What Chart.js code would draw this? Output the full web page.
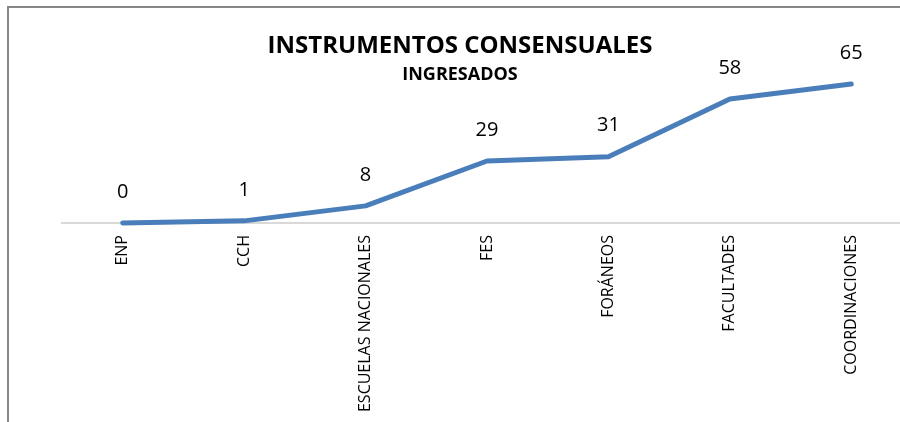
<!DOCTYPE html>
<html>
<head>
<meta charset="utf-8">
<script src="https://cdn.jsdelivr.net/npm/chart.js@4"></script>
<style>
  html, body { margin: 0; padding: 0; background: #fff; overflow: hidden; }
  #wrap { width: 900px; height: 422px; overflow: hidden; position: relative; }
  canvas { display: block; }
</style>
</head>
<body>
<div id="wrap"><canvas id="chart" width="920" height="422"></canvas></div>
<script>
// datos
const CATEGORIES = ['ENP', 'CCH', 'ESCUELAS NACIONALES', 'FES', 'FORÁNEOS', 'FACULTADES', 'COORDINACIONES'];
const VALUES = [0, 1, 8, 29, 31, 58, 65];
const TITLE = 'INSTRUMENTOS CONSENSUALES';
const SUBTITLE = 'INGRESADOS';

const LINE_COLOR = '#4a7ebb';
const FONT = "'Open Sans', sans-serif";

// marco gris (solo se ven el borde superior y el izquierdo)
const framePlugin = {
    id: 'frame',
    beforeDraw(chart) {
        const ctx = chart.ctx;
        ctx.save();
        ctx.strokeStyle = '#878787';
        ctx.lineWidth = 2;
        ctx.beginPath();
        ctx.moveTo(8, 430);
        ctx.lineTo(8, 7);
        ctx.lineTo(930, 7);
        ctx.stroke();
        ctx.restore();
    }
};

// etiquetas de valor encima de cada punto
const valueLabels = {
    id: 'valueLabels',
    afterDatasetsDraw(chart) {
        const ctx = chart.ctx;
        const meta = chart.getDatasetMeta(0);
        ctx.save();
        ctx.font = '20px ' + FONT;
        ctx.fillStyle = '#000';
        ctx.textAlign = 'center';
        ctx.textBaseline = 'middle';
        meta.data.forEach((pt, i) => {
            ctx.fillText(String(VALUES[i]), pt.x, pt.y - 31);
        });
        ctx.restore();
    }
};

const ctx = document.getElementById('chart').getContext('2d');
new Chart(ctx, {
    type: 'line',
    data: {
        labels: CATEGORIES,
        datasets: [{
            data: VALUES,
            borderColor: LINE_COLOR,
            borderWidth: 5,
            borderCapStyle: 'round',
            borderJoinStyle: 'round',
            pointRadius: 0,
            tension: 0,
            fill: false,
            clip: false
        }]
    },
    options: {
        responsive: false,
        animation: false,
        layout: { padding: { left: 8, right: 8, top: 0, bottom: 0 } },
        plugins: {
            legend: { display: false },
            tooltip: { enabled: false },
            title: {
                display: true,
                text: TITLE,
                color: '#000',
                font: { family: FONT, size: 24, weight: 'bold', lineHeight: 1 },
                padding: { top: 34, bottom: 0 }
            },
            subtitle: {
                display: true,
                text: SUBTITLE,
                color: '#000',
                font: { family: FONT, size: 18, weight: 'bold', lineHeight: 1 },
                padding: { top: 8, bottom: 0 }
            }
        },
        scales: {
            x: {
                offset: true,
                grid: { display: false, drawTicks: false },
                border: { display: true, color: '#d9d9d9', width: 2 },
                ticks: {
                    color: '#000',
                    font: { family: FONT, size: 16 },
                    minRotation: 90,
                    maxRotation: 90,
                    autoSkip: false,
                    padding: 12
                },
                afterFit: scale => { scale.height = 422 - 223; }
            },
            y: {
                min: 0,
                max: 65,
                grid: { display: false, drawTicks: false },
                border: { display: false },
                ticks: { display: false },
                afterFit: scale => { scale.width = 54; }
            }
        }
    },
    plugins: [framePlugin, valueLabels]
});
</script>
</body>
</html>
